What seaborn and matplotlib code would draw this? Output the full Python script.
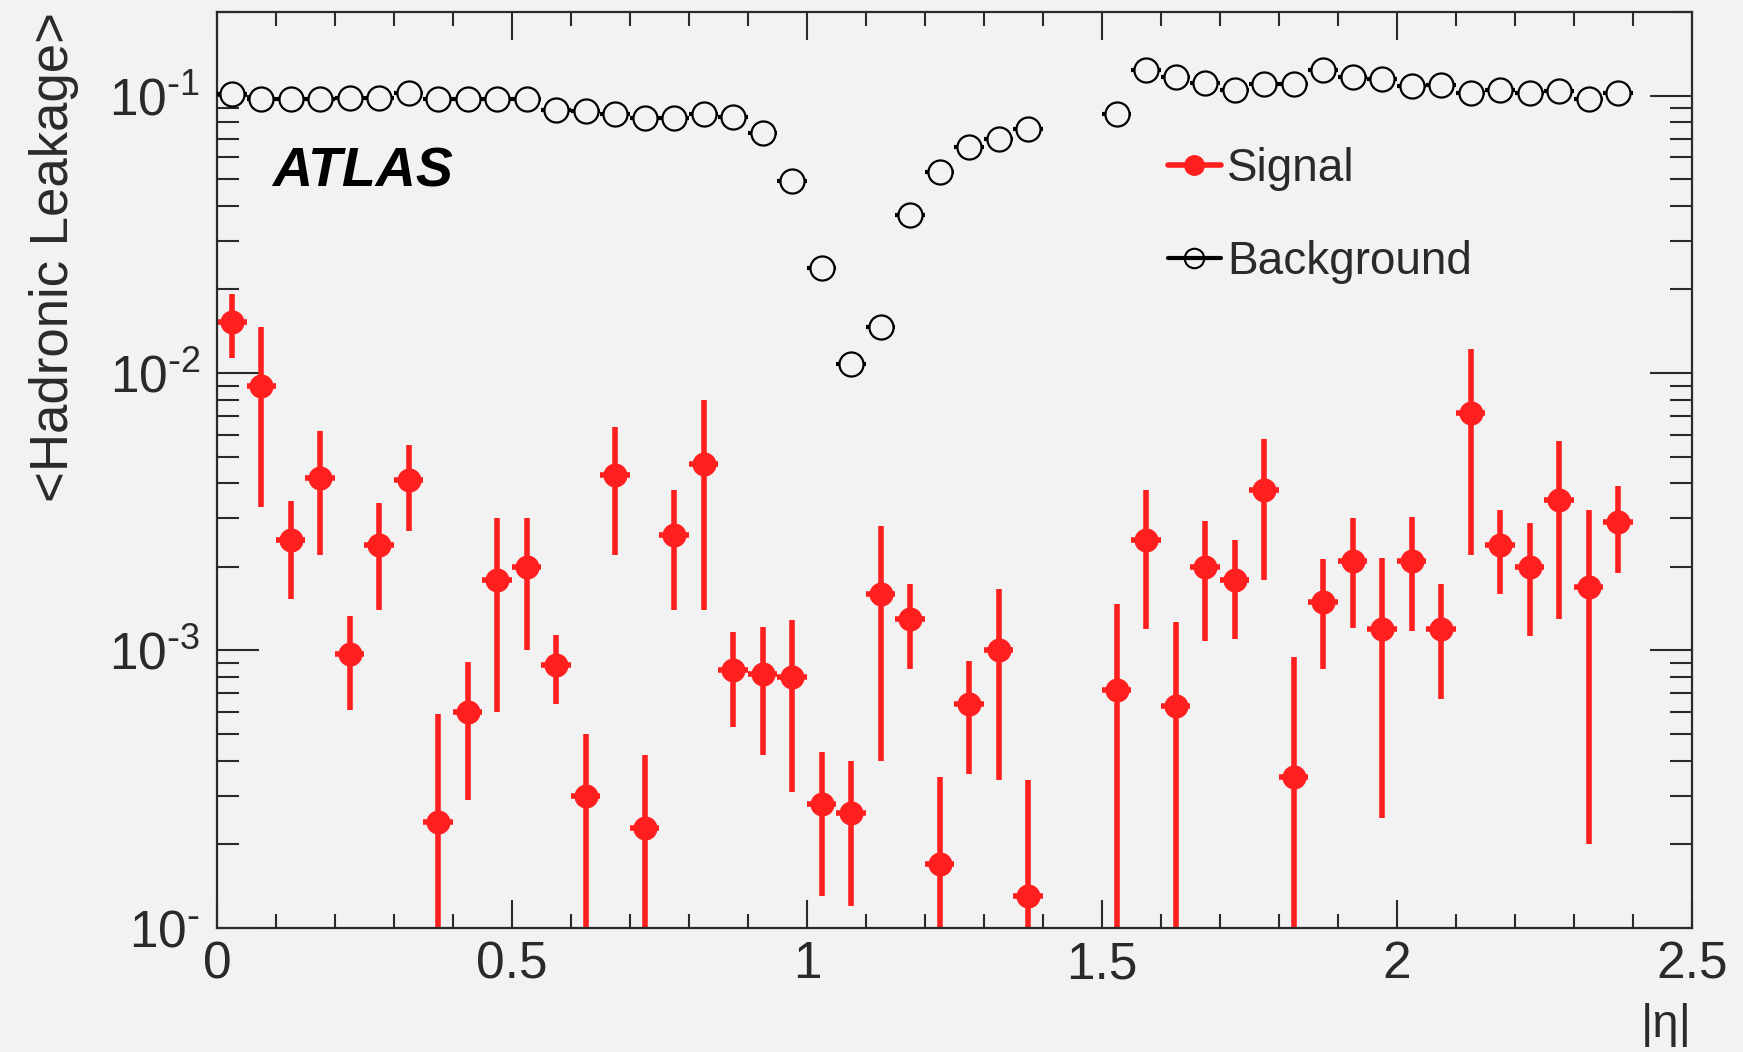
import numpy as np
import pandas as pd
import matplotlib
matplotlib.use('Agg')
import matplotlib.pyplot as plt
import seaborn as sns
from matplotlib import ticker
from matplotlib.lines import Line2D

# bin centres in |eta| (bins of 0.05, crack bins 1.425/1.475 empty)
eta = [0.025, 0.075, 0.125, 0.175, 0.225, 0.275, 0.325, 0.375, 0.425, 0.475,
       0.525, 0.575, 0.625, 0.675, 0.725, 0.775, 0.825, 0.875, 0.925, 0.975,
       1.025, 1.075, 1.125, 1.175, 1.225, 1.275, 1.325, 1.375, 1.425, 1.475,
       1.525, 1.575, 1.625, 1.675, 1.725, 1.775, 1.825, 1.875, 1.925, 1.975,
       2.025, 2.075, 2.125, 2.175, 2.225, 2.275, 2.325, 2.375]

signal = [0.0153, 0.0090, 0.0025, 0.0042, 0.00097, 0.0024, 0.0041, 0.00024, 0.00060, 0.0018,
          0.0020, 0.00089, 0.00030, 0.0043, 0.00023, 0.0026, 0.0047, 0.00085, 0.00082, 0.00080,
          0.00028, 0.00026, 0.0016, 0.0013, 0.00017, 0.00064, 0.0010, 0.00013, np.nan, np.nan,
          0.00072, 0.0025, 0.00063, 0.0020, 0.0018, 0.0038, 0.00035, 0.0015, 0.0021, 0.0012,
          0.0021, 0.0012, 0.0072, 0.0024, 0.0020, 0.0035, 0.0017, 0.0029]

signal_err = [0.0040, 0.0057, 0.00097, 0.0020, 0.00036, 0.0010, 0.0014, 0.00035, 0.00031, 0.0012,
              0.0010, 0.00025, 0.00020, 0.0021, 0.00019, 0.0012, 0.0033, 0.00032, 0.00040, 0.00049,
              0.00015, 0.00014, 0.0012, 0.00044, 0.00018, 0.00028, 0.00066, 0.00021, np.nan, np.nan,
              0.00075, 0.0013, 0.00064, 0.00092, 0.00070, 0.0020, 0.00060, 0.00064, 0.00089, 0.00095,
              0.00092, 0.00053, 0.0050, 0.00080, 0.00087, 0.0022, 0.0015, 0.0010]

background = [0.101, 0.097, 0.097, 0.097, 0.098, 0.098, 0.102, 0.097, 0.097, 0.097,
              0.097, 0.089, 0.088, 0.086, 0.083, 0.083, 0.086, 0.084, 0.073, 0.049,
              0.024, 0.0108, 0.0146, 0.037, 0.053, 0.065, 0.070, 0.076, np.nan, np.nan,
              0.086, 0.124, 0.117, 0.111, 0.105, 0.110, 0.110, 0.124, 0.117, 0.115,
              0.108, 0.109, 0.102, 0.105, 0.102, 0.104, 0.097, 0.102]

half_bin = 0.025
ytick_vals = [1e-4, 1e-3, 1e-2, 1e-1]
ytick_labels = [r'$\mathregular{10^{\text{-}}}$', r'$\mathregular{10^{\text{-}3}}$',
                r'$\mathregular{10^{\text{-}2}}$', r'$\mathregular{10^{\text{-}1}}$']

red = '#ff1f1f'
bg = '#f2f2f3'
ink = '#2a2a2a'

sns.set_theme(style='ticks')
plt.rcParams['font.family'] = ['Liberation Sans', 'DejaVu Sans']
plt.rcParams['mathtext.default'] = 'regular'

sig = pd.DataFrame({'eta': eta, 'val': signal, 'err': signal_err}).dropna()
bkg = pd.DataFrame({'eta': eta, 'val': background}).dropna()

fig, ax = plt.subplots(figsize=(17.43, 10.52), dpi=100)
fig.subplots_adjust(left=0.1245, right=0.9707, top=0.9886, bottom=0.1179)
fig.patch.set_facecolor(bg)
ax.set_facecolor(bg)

# signal: thick red error bars + filled markers
ax.errorbar(sig['eta'], sig['val'], xerr=half_bin, yerr=sig['err'], fmt='none',
            ecolor=red, elinewidth=4, capsize=0, zorder=2)
sns.scatterplot(data=sig, x='eta', y='val', ax=ax, color=red, marker='o',
                s=300, linewidth=0, zorder=3, legend=False)

# background: open circles with horizontal bin-width bars
ax.errorbar(bkg['eta'], bkg['val'], xerr=half_bin, fmt='none',
            ecolor='black', elinewidth=3, capsize=0, zorder=4)
sns.scatterplot(data=bkg, x='eta', y='val', ax=ax, color='black', marker='o',
                s=300, linewidth=1.6, zorder=5, legend=False)
ax.collections[-1].set_facecolor(bg)
ax.collections[-1].set_edgecolor('black')

ax.set_yscale('log')
ax.set_xlim(0, 2.5)
ax.set_ylim(1e-4, 0.2)
ax.set_yticks(ytick_vals)
ax.set_yticklabels(ytick_labels)
ax.yaxis.set_minor_locator(ticker.LogLocator(base=10, subs=np.arange(2, 10)))
ax.yaxis.set_minor_formatter(ticker.NullFormatter())
ax.xaxis.set_major_locator(ticker.MultipleLocator(0.5))
ax.xaxis.set_minor_locator(ticker.MultipleLocator(0.1))
ax.xaxis.set_major_formatter(ticker.FuncFormatter(lambda v, p: '%g' % v))

ax.tick_params(which='both', direction='in', top=True, right=True,
               color=ink, labelcolor=ink, width=1.5)
ax.tick_params(axis='x', which='major', length=20, pad=9, labelsize=37)
ax.tick_params(axis='x', which='minor', length=10)
ax.tick_params(axis='y', which='major', length=30, pad=12, labelsize=37)
ax.tick_params(axis='y', which='minor', length=16)
for s in ax.spines.values():
    s.set_color(ink)
    s.set_linewidth(1.6)

ax.set_ylabel('<Hadronic Leakage>', fontsize=38, color=ink, loc='top', labelpad=22)
ax.set_xlabel('|η|', fontsize=34, color=ink, loc='right', labelpad=10)

ax.text(0.0373, 0.809, 'ATLAS', transform=ax.transAxes, fontsize=40,
        fontweight='bold', fontstyle='italic', color='black', va='baseline')

handles = [Line2D([], [], color=red, lw=4, marker='o', markersize=14),
           Line2D([], [], color='black', lw=3, marker='o', markersize=14,
                  markerfacecolor='none', markeredgewidth=1.5)]
leg = ax.legend(handles, ['Signal', 'Background'], loc='upper left',
                bbox_to_anchor=(0.6447, 0.853), frameon=False, fontsize=33,
                handlelength=1.15, handletextpad=0.15, labelspacing=1.08,
                borderpad=0, borderaxespad=0)
for t in leg.get_texts():
    t.set_color(ink)

fig.savefig('out.png', dpi=100, facecolor=bg)
